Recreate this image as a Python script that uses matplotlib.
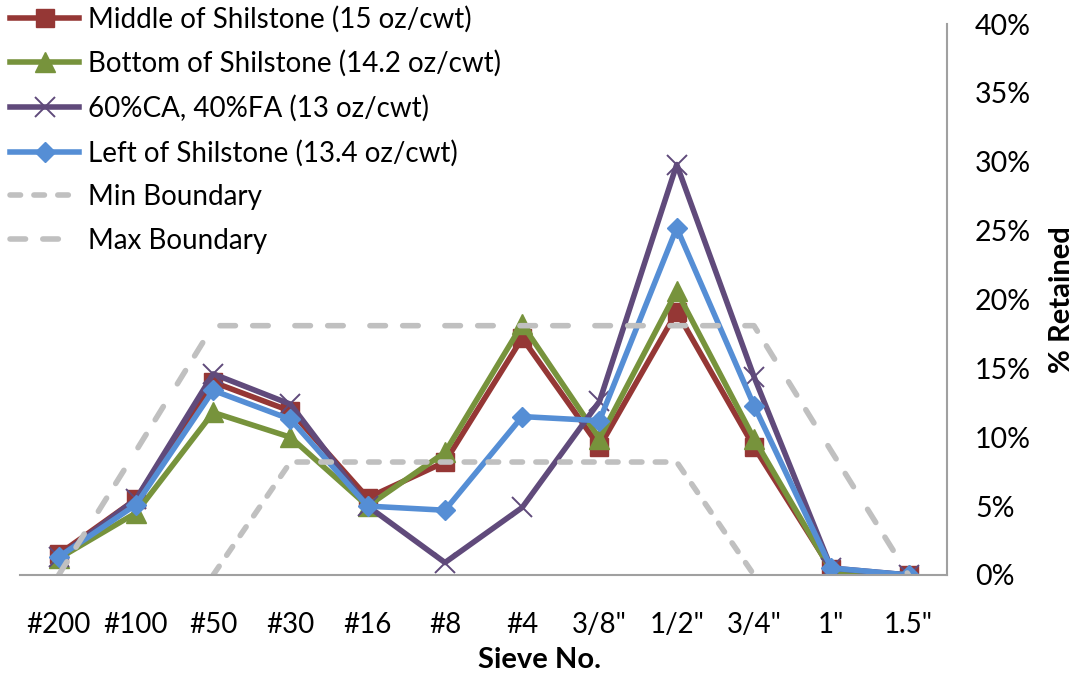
import numpy as np
import matplotlib.pyplot as plt
from matplotlib.ticker import FuncFormatter

plt.rcParams['font.family'] = ['Lato', 'DejaVu Sans']

sieves = ['#200', '#100', '#50', '#30', '#16', '#8', '#4', '3/8"', '1/2"', '3/4"', '1"', '1.5"']

middle = [1.5, 5.5, 14.0, 11.9, 5.6, 8.2, 17.2, 9.3, 19.1, 9.3, 0.4, 0.0]
bottom = [1.2, 4.5, 11.8, 10.0, 5.0, 8.9, 18.2, 9.9, 20.6, 9.9, 0.3, 0.0]
ca_fa = [1.3, 5.5, 14.6, 12.4, 5.0, 0.9, 4.9, 12.6, 29.8, 14.4, 0.5, 0.0]
left = [1.3, 5.1, 13.4, 11.3, 5.0, 4.7, 11.5, 11.2, 25.2, 12.3, 0.5, 0.0]
min_bound = [np.nan, np.nan, 0.0, 8.2, 8.2, 8.2, 8.2, 8.2, 8.2, 0.0, np.nan, np.nan]
max_bound = [0.0, 9.0, 18.1, 18.1, 18.1, 18.1, 18.1, 18.1, 18.1, 18.1, 9.0, 0.0]

x = np.arange(len(sieves))

fig = plt.figure(figsize=(10.78, 6.81), dpi=100)
ax = fig.add_axes([0.0186, 0.1557, 0.86, 0.809])

lw = 4.0
ax.plot(x, np.array(middle) / 100, color='#953735', lw=lw, marker='s', ms=13,
        label='Middle of Shilstone (15 oz/cwt)')
ax.plot(x, np.array(bottom) / 100, color='#77933C', lw=lw, marker='^', ms=14,
        label='Bottom of Shilstone (14.2 oz/cwt)')
ax.plot(x, np.array(ca_fa) / 100, color='#604A7B', lw=lw, marker='x', ms=14, mew=1.4,
        label='60%CA, 40%FA (13 oz/cwt)')
ax.plot(x, np.array(left) / 100, color='#558ED5', lw=lw, marker='D', ms=10.5,
        label='Left of Shilstone (13.4 oz/cwt)')
ax.plot(x, np.array(min_bound) / 100, color='#C0C0C0', lw=lw, dashes=(1.9, 2.4),
        dash_capstyle='round', solid_joinstyle='round', label='Min Boundary')
ax.plot(x, np.array(max_bound) / 100, color='#C0C0C0', lw=lw, dashes=(2.8, 3.1, 2.8, 4.8),
        dash_capstyle='round', solid_joinstyle='round', label='Max Boundary')

ax.set_xlim(-0.5, len(sieves) - 0.5)
ax.set_ylim(0, 0.40)
ax.set_xticks(x)
ax.set_xticklabels(sieves, fontsize=20)
ax.set_yticks(np.arange(0, 0.41, 0.05))
ax.yaxis.set_major_formatter(FuncFormatter(lambda v, p: f'{v * 100:.0f}%'))
ax.yaxis.tick_right()
ax.tick_params(axis='y', labelsize=20.5, length=0, pad=20)
ax.tick_params(axis='x', length=0, pad=27)

for s in ['top', 'left']:
    ax.spines[s].set_visible(False)
for s in ['bottom', 'right']:
    ax.spines[s].set_color('#A0A0A0')
    ax.spines[s].set_linewidth(1.5)

fig.text(0.5, 1 - 660 / 681, 'Sieve No.', fontsize=21, fontweight='bold',
         ha='center', va='center')
fig.text(1062 / 1078, 0.1557 + 0.809 / 2, '% Retained', fontsize=21, fontweight='bold',
         rotation=90, ha='center', va='center')

fig.legend(loc='upper left', bbox_to_anchor=(0.004, 1.0), frameon=False,
           fontsize=20, handlelength=2.5, handletextpad=0.32, labelspacing=0.64,
           borderpad=0.2, borderaxespad=0)

fig.savefig('out.png', dpi=100)
